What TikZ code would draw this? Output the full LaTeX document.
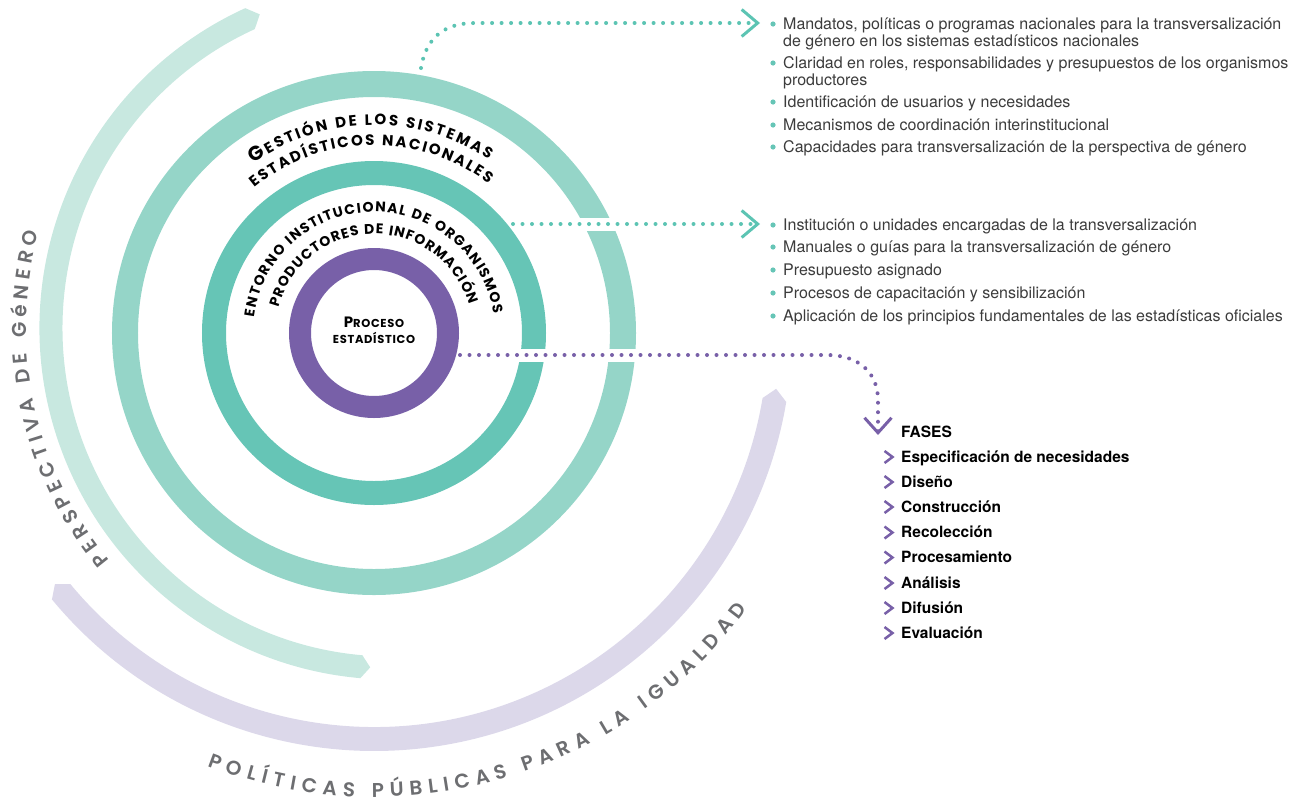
\documentclass[tikz,border=0pt]{standalone}
\usepackage{fontspec}
\setmainfont{TeX Gyre Heros}
\newfontfamily\ringfont{Poppins}[UprightFont=* Bold]
\newfontfamily\arcfont{Poppins}[UprightFont=* SemiBold]
\newfontfamily\capfont{Poppins}[UprightFont=* Bold,LetterSpace=6]
\usetikzlibrary{arrows.meta,calc,decorations.text}
\definecolor{procviolet}{HTML}{7860A8}
\definecolor{entteal}{HTML}{66C5B6}
\definecolor{gesteal}{HTML}{95D5C8}
\definecolor{genmint}{HTML}{C8E8E0}
\definecolor{polilac}{HTML}{DCD8EA}
\definecolor{dotteal}{HTML}{5CC4B3}
\definecolor{arcgray}{HTML}{6D6E71}
\definecolor{listgray}{HTML}{3C3C3C}
\tikzset{
  tealdots/.style={draw=dotteal,line width=4pt,line cap=round,dash pattern=on 0pt off 9.5pt},
  violetdots/.style={draw=procviolet,line width=4pt,line cap=round,dash pattern=on 0pt off 9.5pt},
  chevtip/.style={-{Straight Barb[length=16pt,width=27pt,line width=3pt]}},
  knockout/.style={draw=white,line width=13pt},
  item/.style={anchor=base west,inner sep=0pt,text=listgray,font=\fontsize{16}{17}\selectfont},
  phase/.style={anchor=base west,inner sep=0pt,font=\bfseries\fontsize{15.5}{17}\selectfont},
}
\begin{document}
\begin{tikzpicture}[x=1pt,y=1pt]
\useasboundingbox (-374,-471) rectangle (923,333);
\coordinate (C) at (0,0);   %centre of the rings
\coordinate (G) at (17,5);  %centre of the mint arc
%outer arcs
\fill[genmint] ($(G)+(114.5:351.5)$) arc[start angle=114.5,end angle=265,radius=351.5]
  -- ($(G)+(266.5:340)$) -- ($(G)+(265:328.5)$) arc[start angle=265,end angle=114.5,radius=328.5]
  -- ($(G)+(112.7:340)$) -- cycle;
\fill[polilac] (219.6:418) arc[start angle=219.6,end angle=350.5,radius=418]
  -- (352.1:406) -- (350.5:394) arc[start angle=350.5,end angle=219.6,radius=394]
  -- (218.2:406) -- cycle;
%rings
\draw[gesteal,line width=26pt] (C) circle[radius=249];
\draw[entteal,line width=24pt] (C) circle[radius=160];
\draw[procviolet,line width=22pt] (C) circle[radius=74];
%arc labels
\path[decorate,decoration={text along path,text align={fit to path},text color=arcgray,
  text={|\arcfont\fontsize{20}{20}\selectfont|PERSPECTIVA DE GéNERO}}]
  ($(G)+(219.5:365)$) arc[start angle=219.5,end angle=164.8,radius=365];
\path[decorate,decoration={text along path,text align={fit to path},text color=arcgray,
  text={|\arcfont\fontsize{20}{20}\selectfont|POLÍTICAS PÚBLICAS PARA LA IGUALDAD}}]
  (249:464) arc[start angle=249,end angle=323.5,radius=464];
%ring labels
\path[decorate,decoration={text along path,text align={fit to path},
  text={|\ringfont\fontsize{20}{20}\selectfont|G|\ringfont\fontsize{15}{15}\selectfont|ESTIÓN DE LOS SISTEMAS}}]
  (125.5:208) arc[start angle=125.5,end angle=56.5,radius=208];
\path[decorate,decoration={text along path,text align={fit to path},
  text={|\ringfont\fontsize{15}{15}\selectfont|ESTADÍSTICOS NACIONALES}}]
  (129.5:188) arc[start angle=129.5,end angle=52.5,radius=188];
\path[decorate,decoration={text along path,text align={fit to path},
  text={|\ringfont\fontsize{14}{14}\selectfont|ENTORNO INSTITUCIONAL DE ORGANISMOS}}]
  (172.5:121) arc[start angle=172.5,end angle=9,radius=121];
\path[decorate,decoration={text along path,text align={fit to path},
  text={|\ringfont\fontsize{14}{14}\selectfont|PRODUCTORES DE INFORMACIÓN}}]
  (165:99) arc[start angle=165,end angle=16.5,radius=99];
\node[anchor=base,font=\capfont] (proc) at (0,6)
  {{\fontsize{15}{15}\selectfont P}\fontsize{11.5}{12}\selectfont ROCESO};
\node[anchor=base,font=\capfont\fontsize{11.5}{12}\selectfont] (est) at (0,-10) {ESTADÍSTICO};
%dotted connectors
\coordinate (g0) at (47,265);
\coordinate (g1) at (386,310);
\draw[tealdots,chevtip] (g0) .. controls (52,295) and (70,310) .. (101,310) -- (g1);
\coordinate (e0) at (139,109);
\coordinate (e1) at (386,109);
\draw[knockout] (e0) -- (e1);
\draw[tealdots,chevtip] (e0) -- (e1);
\coordinate (p0) at (86,-22);
\coordinate (p1) at (504,-102);
\draw[knockout] (p0) -- (453,-22);
\draw[violetdots,-{Straight Barb[length=15pt,width=27pt,line width=3pt]}] (p0) -- (453,-22)
  .. controls (485,-22) and (504,-40) .. (504,-67) -- (p1);
%management list
\foreach \y/\t [count=\i] in {304/{Mandatos, políticas o programas nacionales para la transversalización},
  287/{de género en los sistemas estadísticos nacionales},
  265/{Claridad en roles, responsabilidades y presupuestos de los organismos},
  248/{productores},
  226/{Identificación de usuarios y necesidades},
  203/{Mecanismos de coordinación interinstitucional},
  181/{Capacidades para transversalización de la perspectiva de género}}
  \node[item] (gest\i) at (409,\y) {\t};
\foreach \y in {309,270,231,208,186}
  \fill[entteal] (399,\y) circle[radius=2.6];
%institutional list
\foreach \y/\t [count=\i] in {103/{Institución o unidades encargadas de la transversalización},
  81/{Manuales o guías para la transversalización de género},
  58/{Presupuesto asignado},
  35/{Procesos de capacitación y sensibilización},
  12/{Aplicación de los principios fundamentales de las estadísticas oficiales}}
  {\node[item] (ent\i) at (409,\y) {\t};
   \fill[entteal] (399,\y+5) circle[radius=2.6];}
%phases
\node[phase] (fases) at (527,-104) {FASES};
\foreach \y/\t [count=\i] in {-129/{Especificación de necesidades},-154/Diseño,-179/Construcción,
  -204.5/Recolección,-229.5/Procesamiento,-255/Análisis,-280/Difusión,-305/Evaluación}
  {\node[phase] (fase\i) at (527,\y) {\t};
   \draw[procviolet,line width=2.5pt] (510.5,\y+11) -- (518.5,\y+5) -- (510.5,\y-1);}
\end{tikzpicture}
\end{document}
